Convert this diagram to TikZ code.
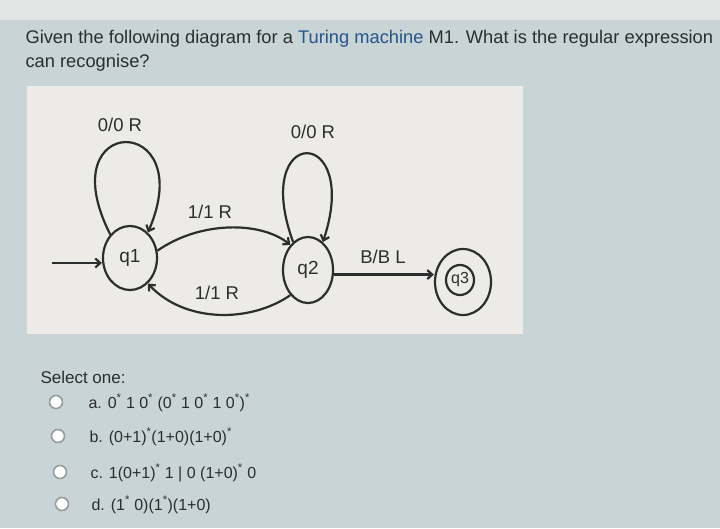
\documentclass[tikz,border=0pt]{standalone}
\usepackage{fontspec}
\setmainfont{Liberation Sans}
\usepackage{xcolor}
\usepackage{tikz}
\usetikzlibrary{arrows.meta, shapes.geometric}
\definecolor{screenbg}{RGB}{200,212,213}
\definecolor{screentop}{RGB}{226,229,228}
\definecolor{panelbg}{RGB}{237,235,231}
\definecolor{inkgrey}{RGB}{42,46,47}
\definecolor{linkblue}{RGB}{38,84,140}
\definecolor{radiogrey}{RGB}{150,156,158}
\tikzstyle{state} = [draw=inkgrey, line width=2.2pt, ellipse, inner sep=0pt, font=\fontsize{19}{19}\selectfont, text=inkgrey]
\tikzstyle{trans} = [-{Straight Barb[length=5pt,width=9pt]}, line width=2.2pt, draw=inkgrey]
\tikzstyle{tlabel} = [font=\fontsize{18.5}{18.5}\selectfont, text=inkgrey]
\tikzstyle{option} = [anchor=base west, font=\fontsize{16}{16}\selectfont, text=inkgrey]
\tikzstyle{radio} = [draw=radiogrey, line width=1.6pt, fill=white, circle, minimum size=13pt, inner sep=0pt]

\begin{document}
\begin{tikzpicture}[x=1pt, y=-1pt]
    \useasboundingbox (0,0) rectangle (720,528);
    \fill[screenbg] (0,0) rectangle (720,528);
    \fill[screentop] (0,0) rectangle (720,20);
    \fill[panelbg] (27,86) rectangle (523,334);

    % question
    \node[anchor=base west, font=\fontsize{18.3}{18.3}\selectfont, text=inkgrey] (qline1) at (22,43)
        {Given the following diagram for a \textcolor{linkblue}{Turing machine} M1. What is the regular expression};
    \node[anchor=base west, font=\fontsize{18.3}{18.3}\selectfont, text=inkgrey] (qline2) at (22,67)
        {can recognise?};

    % machine
    \node[state, minimum width=54pt, minimum height=64pt] (q1) at (130,258) {q1};
    \node[state, minimum width=50pt, minimum height=66pt] (q2) at (308,270) {q2};
    \node[state, minimum width=56pt, minimum height=66pt] (q3) at (463,282) {};
    \node[state, minimum width=28pt, minimum height=30pt, font=\fontsize{16}{16}\selectfont] (q3in) at (460,280) {q3};
    \coordinate (start) at (52,263);

    \draw[trans] (start) -- (q1.west |- start);
    \draw[trans] (q1.130) .. controls (48,112) and (200,112) .. (q1.55);
    \draw[trans] (q2.118) .. controls (250,124) and (362,124) .. (q2.62);
    \draw[trans] (q1.15) .. controls (200,221) and (260,221) .. (q2.125);
    \draw[trans] (q2.235) .. controls (250,323) and (185,323) .. (q1.305);
    \draw[trans] (q2.-10) -- (q3.west |- q2.-10);

    \node[tlabel] (lbl11) at (120,125) {0/0 R};
    \node[tlabel] (lbl22) at (313,132) {0/0 R};
    \node[tlabel] (lbl12) at (210,212) {1/1 R};
    \node[tlabel] (lbl21) at (217,293) {1/1 R};
    \node[tlabel] (lbl23) at (383,257) {B/B L};

    % answers
    \node[anchor=base west, font=\fontsize{17}{17}\selectfont, text=inkgrey] (select) at (37,383) {Select one:};
    \node[radio] (ra) at (56,402) {};
    \node[radio] (rb) at (58,436) {};
    \node[radio] (rc) at (60,472) {};
    \node[radio] (rd) at (62,504) {};
    \node[option] (opta) at (85,408) {a. 0\textsuperscript{*} 1 0\textsuperscript{*} (0\textsuperscript{*} 1 0\textsuperscript{*} 1 0\textsuperscript{*})\textsuperscript{*}};
    \node[option] (optb) at (86,442) {b. (0+1)\textsuperscript{*}(1+0)(1+0)\textsuperscript{*}};
    \node[option] (optc) at (87,478) {c. 1(0+1)\textsuperscript{*} 1 | 0 (1+0)\textsuperscript{*} 0};
    \node[option] (optd) at (88,510) {d. (1\textsuperscript{*} 0)(1\textsuperscript{*})(1+0)};
\end{tikzpicture}
\end{document}
